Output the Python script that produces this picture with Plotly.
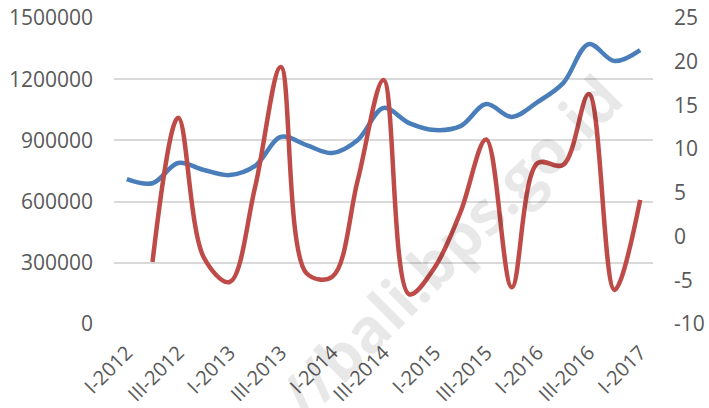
import plotly.graph_objects as go

# Quarterly periods, I-2012 .. I-2017
quarters = [
    "I-2012", "II-2012", "III-2012", "IV-2012",
    "I-2013", "II-2013", "III-2013", "IV-2013",
    "I-2014", "II-2014", "III-2014", "IV-2014",
    "I-2015", "II-2015", "III-2015", "IV-2015",
    "I-2016", "II-2016", "III-2016", "IV-2016",
    "I-2017",
]

# Level series (left axis)
level_values = [
    710000, 690000, 789000, 755000, 730000, 775000, 917000, 877000,
    838000, 902000, 1059000, 985000, 951000, 970000, 1078000, 1015000,
    1088000, 1181000, 1372000, 1289000, 1343000,
]

# Year-on-year growth in percent (right axis), starting II-2012
growth_quarters = quarters[1:]
growth_values = [
    -2.9, 13.6, -2.4, -5.2, 5.7, 19.4, -4.2, -4.6,
    6.5, 17.9, -6.6, -3.5, 2.8, 11.1, -5.8, 8.4,
    8.2, 16.3, -6.1, 4.2,
]

# Every other quarter gets a tick label
tick_labels = quarters[::2]

left_ticks = [0, 300000, 600000, 900000, 1200000, 1500000]
right_ticks = [-10, -5, 0, 5, 10, 15, 20, 25]

BLUE = "#4A7EBB"
RED = "#BE4B48"
GREY_TEXT = "#595959"
FONT = "Open Sans"

fig = go.Figure()

fig.add_trace(go.Scatter(
    x=quarters, y=level_values, mode="lines",
    line=dict(color=BLUE, width=4.5, shape="spline", smoothing=1.0),
    yaxis="y", showlegend=False, hoverinfo="x+y",
))

fig.add_trace(go.Scatter(
    x=growth_quarters, y=growth_values, mode="lines",
    line=dict(color=RED, width=4.5, shape="spline", smoothing=1.0),
    yaxis="y2", showlegend=False, hoverinfo="x+y",
))

# Faint site watermark running diagonally across the plot
fig.add_annotation(
    text="//bali.bps.go.id", xref="paper", yref="paper",
    x=0.623, y=0.255, xanchor="center", yanchor="middle",
    showarrow=False, textangle=-45,
    font=dict(family=FONT, size=61, color="rgba(0,0,0,0.09)", weight="bold"),
)

fig.update_layout(
    width=709, height=408,
    margin=dict(l=114, r=56, t=18, b=84),
    paper_bgcolor="white", plot_bgcolor="white",
    font=dict(family=FONT, size=21, color=GREY_TEXT),
    xaxis=dict(
        type="category", categoryorder="array", categoryarray=quarters,
        range=[-0.5, len(quarters) - 0.5],
        tickmode="array", tickvals=tick_labels, ticktext=tick_labels,
        tickangle=-45, showgrid=False, showline=False, zeroline=False,
        ticks="", ticklabelstandoff=12, automargin=False,
        tickfont=dict(family=FONT, size=20, color=GREY_TEXT),
    ),
    yaxis=dict(
        range=[0, 1500000], tickmode="array", tickvals=left_ticks,
        ticktext=[str(v) for v in left_ticks],
        showgrid=True, gridcolor="#D9D9D9", gridwidth=1.5,
        zeroline=False, showline=False, ticks="", ticklabelstandoff=20,
        automargin=False,
        tickfont=dict(family=FONT, size=21, color=GREY_TEXT),
    ),
    yaxis2=dict(
        range=[-10, 25], overlaying="y", side="right",
        tickmode="array", tickvals=right_ticks,
        ticktext=[str(v) for v in right_ticks],
        showgrid=False, zeroline=False, showline=False, ticks="",
        ticklabelstandoff=20, automargin=False,
        tickfont=dict(family=FONT, size=21, color=GREY_TEXT),
    ),
)

fig.write_html("out.html")
